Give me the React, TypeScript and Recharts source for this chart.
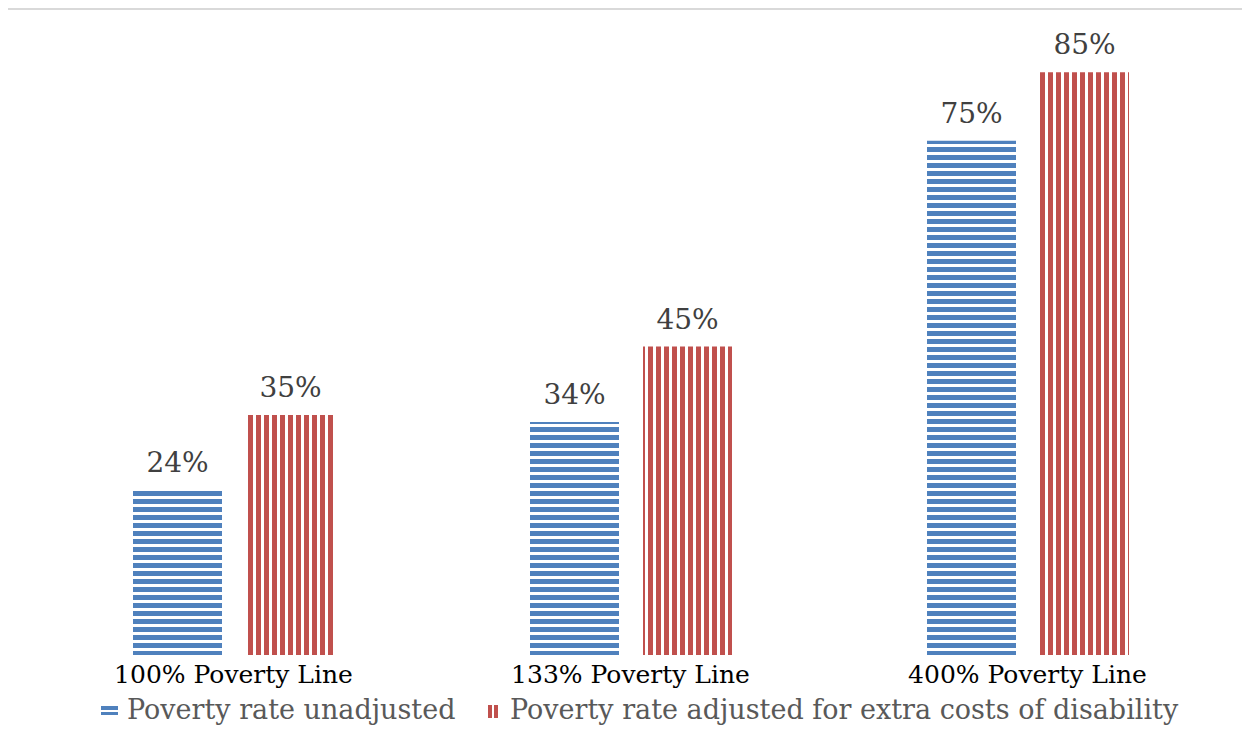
import React from 'react';
import { BarChart, Bar, XAxis, YAxis, LabelList } from 'recharts';

const categories = ['100% Poverty Line', '133% Poverty Line', '400% Poverty Line'];
const unadjusted = [0.24, 0.34, 0.75];
const adjusted = [0.35, 0.45, 0.85];
const seriesNames = ['Poverty rate unadjusted', 'Poverty rate adjusted for extra costs of disability'];

const data = categories.map((c, i) => ({ name: c, unadjusted: unadjusted[i], adjusted: adjusted[i] }));

const FONT = '"DejaVu Serif", serif';
const BLUE = '#4F81BD';
const RED = '#C0504D';

const pct = (v: any) => `${Math.round(Number(v) * 100)}%`;

const CatTick = (props: any) => {
  const { x, y, payload } = props;
  return (
    <text x={x} y={y + 28} textAnchor="middle" fill="#000" fontSize={25} fontFamily={FONT}>
      {payload.value}
    </text>
  );
};

export default function App() {
  return (
    <div
      style={{
        position: 'relative',
        width: 1250,
        height: 748,
        marginLeft: -2,
        border: '2px solid #d9d9d9',
        boxSizing: 'border-box',
        background: '#fff',
      }}
    >
      <div style={{ position: 'absolute', left: 0, top: 0 }}>
        <BarChart
          width={1240}
          height={736}
          data={data}
          margin={{ top: 28, right: 22, left: 27, bottom: 51 }}
          barSize={89}
          barGap={24}
        >
          <defs>
            <pattern id="hstripe" patternUnits="userSpaceOnUse" width={8} height={8}>
              <rect x={0} y={0} width={8} height={8} fill="#ffffff" />
              <rect x={0} y={1} width={8} height={5} fill={BLUE} />
            </pattern>
            <pattern id="vstripe" patternUnits="userSpaceOnUse" width={8} height={8}>
              <rect x={0} y={0} width={8} height={8} fill="#ffffff" />
              <rect x={0} y={0} width={5} height={8} fill={RED} />
            </pattern>
          </defs>
          <XAxis
            dataKey="name"
            axisLine={false}
            tickLine={false}
            tickSize={0}
            tickMargin={0}
            height={40}
            interval={0}
            tick={<CatTick />}
          />
          <YAxis hide domain={[0, 0.9]} />
          <Bar dataKey="unadjusted" fill="url(#hstripe)" isAnimationActive={false}>
            <LabelList
              dataKey="unadjusted"
              position="top"
              offset={18}
              formatter={pct}
              fill="#404040"
              fontSize={28}
              fontFamily={FONT}
            />
          </Bar>
          <Bar dataKey="adjusted" fill="url(#vstripe)" isAnimationActive={false}>
            <LabelList
              dataKey="adjusted"
              position="top"
              offset={18}
              formatter={pct}
              fill="#404040"
              fontSize={28}
              fontFamily={FONT}
            />
          </Bar>
        </BarChart>
      </div>
      <svg
        width={1246}
        height={744}
        style={{ position: 'absolute', left: 0, top: 0, pointerEvents: 'none' }}
      >
        <defs>
          <pattern id="lh" patternUnits="userSpaceOnUse" width={8} height={6}>
            <rect x={0} y={0} width={8} height={4} fill={BLUE} />
          </pattern>
          <pattern id="lv" patternUnits="userSpaceOnUse" width={6} height={8}>
            <rect x={0} y={0} width={4} height={8} fill={RED} />
          </pattern>
        </defs>
        <rect x={93} y={695} width={17} height={10} fill="url(#lh)" />
        <text x={119} y={709} fill="#595959" fontSize={27} fontFamily={FONT}>
          {seriesNames[0]}
        </text>
        <rect x={480} y={695} width={10} height={13} fill="url(#lv)" />
        <text x={502} y={709} fill="#595959" fontSize={27} fontFamily={FONT}>
          {seriesNames[1]}
        </text>
      </svg>
    </div>
  );
}
